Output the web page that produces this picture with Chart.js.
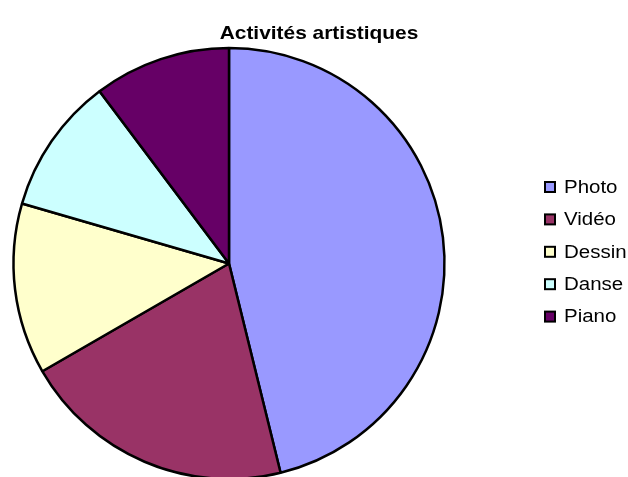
<!DOCTYPE html>
<html>
<head>
<meta charset="utf-8">
<script src="https://cdn.jsdelivr.net/npm/chart.js@4/dist/chart.umd.min.js"></script>
<style>
    html, body { margin: 0; padding: 0; background: #fff; overflow: hidden; }
    #wrap { width: 628px; height: 477px; }
</style>
</head>
<body>
<div id="wrap"><canvas id="pieChart" width="628" height="477"></canvas></div>
<script>
// Data
const chartTitle = 'Activités artistiques';
const labels = ['Photo', 'Vidéo', 'Dessin', 'Danse', 'Piano'];
const values = [18, 8, 5, 4, 4];
const colors = ['#9999FF', '#993366', '#FFFFCC', '#CCFFFF', '#660066'];

// Title + legend drawn Excel-style (text is slightly stretched horizontally in the original)
const excelDecor = {
    id: 'excelDecor',
    afterDraw(chart) {
        const ctx = chart.ctx;
        ctx.save();
        ctx.fillStyle = '#000';
        ctx.textBaseline = 'alphabetic';

        // title
        ctx.save();
        ctx.translate(319, 38.7);
        ctx.scale(1.1, 1);
        ctx.font = 'bold 19px "Liberation Sans", Arial, sans-serif';
        ctx.textAlign = 'center';
        ctx.fillText(chartTitle, 0, 0);
        ctx.restore();

        // legend
        const ds = chart.data.datasets[0];
        chart.data.labels.forEach((lbl, i) => {
            const cy = 187 + i * 32.4;
            ctx.fillStyle = ds.backgroundColor[i];
            ctx.fillRect(545, cy - 5, 10, 10);
            ctx.strokeStyle = '#000';
            ctx.lineWidth = 2;
            ctx.strokeRect(545, cy - 5, 10, 10);

            ctx.save();
            ctx.translate(564, cy + 5.8);
            ctx.scale(1.17, 1);
            ctx.fillStyle = '#000';
            ctx.font = '17.5px "Liberation Sans", Arial, sans-serif';
            ctx.textAlign = 'left';
            ctx.fillText(lbl, 0, 0);
            ctx.restore();
        });
        ctx.restore();
    }
};

const pieChart = new Chart(document.getElementById('pieChart'), {
    type: 'pie',
    data: {
        labels: labels,
        datasets: [{
            data: values,
            backgroundColor: colors,
            borderColor: '#000',
            borderWidth: 2.5,
            clip: false
        }]
    },
    options: {
        responsive: false,
        devicePixelRatio: 1,
        animation: false,
        radius: 215.5,
        layout: {
            padding: { left: 0, right: 170, top: 50, bottom: 0 }
        },
        plugins: {
            legend: { display: false },
            title: { display: false },
            tooltip: { enabled: false }
        }
    },
    plugins: [excelDecor]
});
</script>
</body>
</html>
